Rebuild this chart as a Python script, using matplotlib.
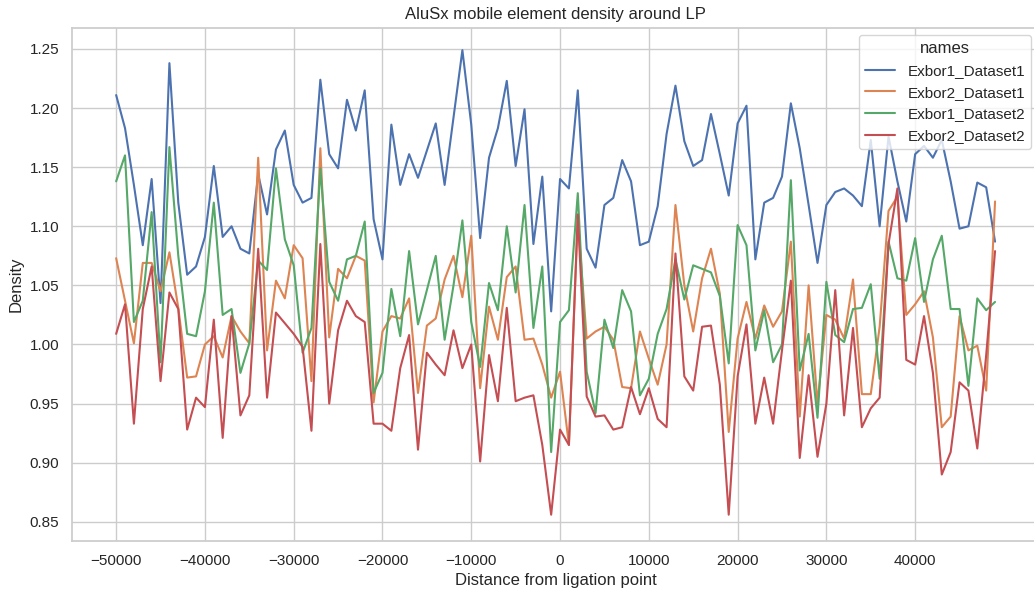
import numpy as np
import matplotlib
matplotlib.use("Agg")
import matplotlib.pyplot as plt
import seaborn as sns

# Distance from the ligation point (bp), one bin every 1 kb
distance = np.arange(-50000, 50000, 1000)

exbor1_dataset1 = [
    1.211, 1.183, 1.135, 1.084, 1.140, 1.035, 1.238, 1.120, 1.059, 1.066,
    1.091, 1.151, 1.091, 1.100, 1.081, 1.077, 1.144, 1.110, 1.165, 1.181,
    1.135, 1.120, 1.124, 1.224, 1.161, 1.149, 1.207, 1.181, 1.215, 1.106,
    1.072, 1.186, 1.135, 1.161, 1.141, 1.164, 1.187, 1.135, 1.192, 1.249,
    1.186, 1.090, 1.158, 1.183, 1.223, 1.151, 1.199, 1.085, 1.142, 1.028,
    1.140, 1.132, 1.215, 1.081, 1.065, 1.118, 1.124, 1.156, 1.138, 1.084,
    1.087, 1.117, 1.178, 1.219, 1.172, 1.151, 1.156, 1.195, 1.161, 1.126,
    1.187, 1.202, 1.072, 1.120, 1.124, 1.142, 1.204, 1.166, 1.118, 1.069,
    1.118, 1.129, 1.132, 1.126, 1.117, 1.173, 1.100, 1.176, 1.138, 1.104,
    1.161, 1.168, 1.158, 1.173, 1.138, 1.098, 1.100, 1.137, 1.133, 1.087,
]

exbor2_dataset1 = [
    1.073, 1.037, 1.001, 1.069, 1.069, 1.045, 1.078, 1.031, 0.972, 0.973,
    1.000, 1.007, 0.989, 1.024, 1.011, 1.001, 1.158, 0.995, 1.054, 1.039,
    1.084, 1.073, 0.969, 1.166, 1.006, 1.064, 1.056, 1.075, 1.071, 0.951,
    1.011, 1.024, 1.022, 1.039, 0.959, 1.016, 1.022, 1.055, 1.075, 1.040,
    1.092, 0.963, 1.032, 1.004, 1.057, 1.066, 1.004, 1.005, 0.983, 0.955,
    0.977, 0.915, 1.107, 1.005, 1.011, 1.015, 1.004, 0.964, 0.963, 1.011,
    0.988, 0.966, 1.000, 1.118, 1.050, 1.011, 1.056, 1.081, 1.043, 0.926,
    1.005, 1.036, 1.005, 1.033, 1.015, 1.028, 1.087, 0.939, 1.050, 0.950,
    1.025, 1.021, 1.005, 1.055, 0.958, 0.958, 1.015, 1.113, 1.125, 1.025,
    1.034, 1.045, 1.006, 0.930, 0.939, 1.024, 0.995, 0.999, 0.961, 1.121,
]

exbor1_dataset2 = [
    1.138, 1.160, 1.019, 1.037, 1.112, 0.985, 1.167, 1.075, 1.009, 1.007,
    1.045, 1.120, 1.025, 1.030, 0.976, 1.001, 1.071, 1.063, 1.149, 1.089,
    1.067, 0.993, 1.014, 1.149, 1.053, 1.037, 1.072, 1.075, 1.104, 0.959,
    0.976, 1.047, 1.007, 1.079, 1.017, 1.046, 1.075, 1.004, 1.050, 1.105,
    1.019, 0.981, 1.052, 1.029, 1.100, 1.044, 1.118, 1.014, 1.066, 0.909,
    1.019, 1.029, 1.128, 0.977, 0.942, 1.021, 0.997, 1.046, 1.028, 0.957,
    0.971, 1.009, 1.030, 1.072, 1.038, 1.067, 1.064, 1.061, 1.041, 0.984,
    1.101, 1.084, 0.995, 1.029, 0.985, 1.000, 1.139, 0.978, 1.009, 0.938,
    1.053, 1.008, 1.002, 1.030, 1.031, 1.051, 0.971, 1.087, 1.056, 1.054,
    1.090, 1.036, 1.072, 1.092, 1.030, 1.030, 0.965, 1.039, 1.029, 1.036,
]

exbor2_dataset2 = [
    1.009, 1.034, 0.933, 1.030, 1.066, 0.969, 1.044, 1.030, 0.928, 0.955,
    0.947, 1.021, 0.921, 1.024, 0.940, 0.957, 1.081, 0.955, 1.027, 1.018,
    1.009, 0.998, 0.927, 1.085, 0.950, 1.012, 1.037, 1.024, 1.019, 0.933,
    0.933, 0.927, 0.980, 1.008, 0.911, 0.993, 0.983, 0.974, 1.012, 0.980,
    1.000, 0.901, 0.991, 0.952, 1.031, 0.952, 0.955, 0.957, 0.915, 0.856,
    0.928, 0.915, 1.110, 0.956, 0.939, 0.940, 0.928, 0.930, 0.964, 0.941,
    0.963, 0.937, 0.930, 1.077, 0.973, 0.961, 1.015, 1.016, 0.966, 0.856,
    0.973, 1.017, 0.933, 0.972, 0.933, 0.995, 1.054, 0.904, 0.974, 0.905,
    0.950, 1.046, 0.940, 1.014, 0.930, 0.946, 0.955, 1.085, 1.132, 0.987,
    0.983, 1.024, 0.976, 0.890, 0.909, 0.968, 0.961, 0.912, 0.991, 1.079,
]

series_names = ["Exbor1_Dataset1", "Exbor2_Dataset1", "Exbor1_Dataset2", "Exbor2_Dataset2"]
series_values = [exbor1_dataset1, exbor2_dataset1, exbor1_dataset2, exbor2_dataset2]
x_ticks = list(range(-50000, 50000, 10000))

sns.set_theme(style="whitegrid")
plt.rcParams["font.family"] = ["Liberation Sans", "DejaVu Sans"]
palette = sns.color_palette("deep", 4)

W, H = 1034, 594
fig = plt.figure(figsize=(W / 100, H / 100), dpi=100)
ax = fig.add_axes([72.2 / W, 53.3 / H, 966.8 / W, 513.0 / H])

for name, vals, col in zip(series_names, series_values, palette):
    ax.plot(distance, vals, color=col, lw=1.5, label=name)

ax.set_xlim(-54950, 53950)
ax.set_ylim(0.834, 1.268)
ax.set_xticks(x_ticks)
ax.set_title("AluSx mobile element density around LP")
ax.set_xlabel("Distance from ligation point")
ax.set_ylabel("Density")
ax.legend(title="names", loc="upper right")

fig.savefig("out.png", dpi=100)
